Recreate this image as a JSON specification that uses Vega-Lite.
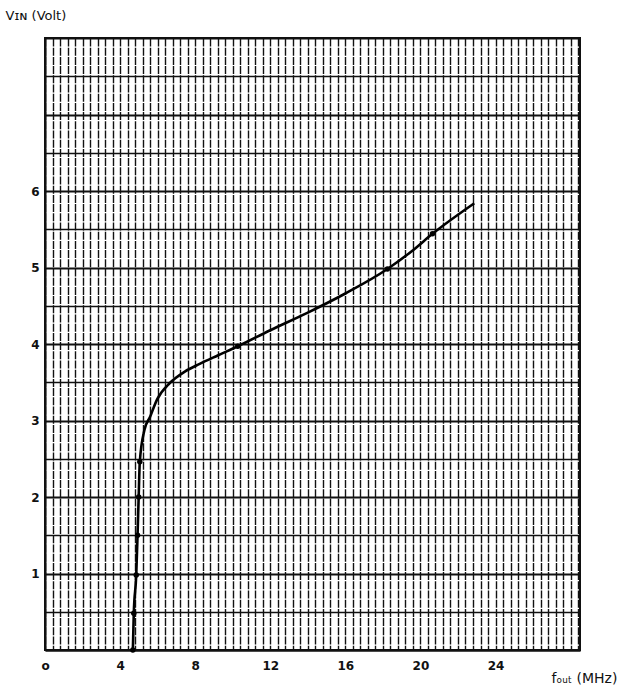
{
  "$schema": "https://vega.github.io/schema/vega-lite/v6.json",
  "width": 535,
  "height": 612,
  "autosize": {"type": "none"},
  "padding": {"left": 45, "top": 38, "right": 45, "bottom": 37},
  "background": "white",
  "config": {
    "view": {"stroke": "#111", "strokeWidth": 2},
    "font": "DejaVu Sans"
  },
  "data": {
    "values": [
      {"f": 4.68, "v": 0.0, "dot": 1},
      {"f": 4.73, "v": 0.48, "dot": 1},
      {"f": 4.86, "v": 0.98, "dot": 1},
      {"f": 4.93, "v": 1.5, "dot": 1},
      {"f": 4.99, "v": 2.0, "dot": 1},
      {"f": 5.05, "v": 2.46, "dot": 1},
      {"f": 5.3, "v": 2.88, "dot": 0},
      {"f": 5.6, "v": 3.05, "dot": 0},
      {"f": 5.96, "v": 3.27, "dot": 0},
      {"f": 6.65, "v": 3.49, "dot": 0},
      {"f": 7.45, "v": 3.64, "dot": 0},
      {"f": 8.24, "v": 3.74, "dot": 0},
      {"f": 9.2, "v": 3.85, "dot": 0},
      {"f": 10.27, "v": 3.97, "dot": 1},
      {"f": 12.0, "v": 4.18, "dot": 0},
      {"f": 14.0, "v": 4.41, "dot": 0},
      {"f": 16.0, "v": 4.66, "dot": 0},
      {"f": 18.24, "v": 4.98, "dot": 1},
      {"f": 19.57, "v": 5.22, "dot": 0},
      {"f": 20.64, "v": 5.44, "dot": 1},
      {"f": 22.87, "v": 5.84, "dot": 0}
    ]
  },
  "encoding": {
    "x": {
      "field": "f",
      "type": "quantitative",
      "scale": {"domain": [0, 28.5], "nice": false, "zero": false},
      "axis": {
        "values": [0,0.4,0.8,1.2,1.6,2,2.4,2.8,3.2,3.6,4,4.4,4.8,5.2,5.6,6,6.4,6.8,7.2,7.6,8,8.4,8.8,9.2,9.6,10,10.4,10.8,11.2,11.6,12,12.4,12.8,13.2,13.6,14,14.4,14.8,15.2,15.6,16,16.4,16.8,17.2,17.6,18,18.4,18.8,19.2,19.6,20,20.4,20.8,21.2,21.6,22,22.4,22.8,23.2,23.6,24,24.4,24.8,25.2,25.6,26,26.4,26.8,27.2,27.6,28,28.4],
        "labelExpr": "datum.value % 4 === 0 && datum.value <= 24 ? (datum.value === 0 ? 'o' : '' + datum.value) : ''",
        "grid": true,
        "gridColor": "#111",
        "gridWidth": 1.4,
        "gridDash": [8, 1.2],
        "gridOpacity": 1,
        "ticks": false,
        "domain": true,
        "domainColor": "#111",
        "domainWidth": 2,
        "labelFont": "DejaVu Sans",
        "labelFontWeight": "bold",
        "labelFontSize": 12,
        "labelColor": "#111",
        "labelPadding": 10,
        "labelFlush": false,
        "labelOverlap": false,
        "title": "fₒᵤₜ (MHz)",
        "titleFont": "DejaVu Sans",
        "titleFontWeight": "normal",
        "titleFontSize": 14,
        "titleColor": "#111",
        "titleAngle": 0,
        "titleAlign": "left",
        "titleBaseline": "alphabetic",
        "titleX": 506,
        "titleY": 32
      }
    },
    "y": {
      "field": "v",
      "type": "quantitative",
      "scale": {"domain": [0, 8], "nice": false},
      "axis": {
        "values": [0,0.5,1,1.5,2,2.5,3,3.5,4,4.5,5,5.5,6,6.5,7,7.5,8],
        "labelExpr": "datum.value % 1 === 0 && datum.value >= 1 && datum.value <= 6 ? '' + datum.value : ''",
        "grid": true,
        "gridColor": "#111",
        "gridWidth": {"condition": {"test": "datum.value % 1 === 0", "value": 2}, "value": 1.3},
        "gridOpacity": 1,
        "ticks": false,
        "domain": true,
        "domainColor": "#111",
        "domainWidth": 2,
        "labelFont": "DejaVu Sans",
        "labelFontWeight": "bold",
        "labelFontSize": 12,
        "labelColor": "#111",
        "labelPadding": 6,
        "labelOverlap": false,
        "title": "Vɪɴ (Volt)",
        "titleFont": "DejaVu Sans",
        "titleFontWeight": "normal",
        "titleFontSize": 13,
        "titleColor": "#111",
        "titleAngle": 0,
        "titleAlign": "left",
        "titleBaseline": "middle",
        "titleX": -40,
        "titleY": -23
      }
    }
  },
  "layer": [
    {
      "mark": {"type": "line", "color": "#000", "strokeWidth": 2.6, "interpolate": "monotone"}
    },
    {
      "transform": [{"filter": "datum.dot === 1"}],
      "mark": {"type": "point", "filled": true, "color": "#000", "size": 30, "opacity": 1}
    }
  ]
}
